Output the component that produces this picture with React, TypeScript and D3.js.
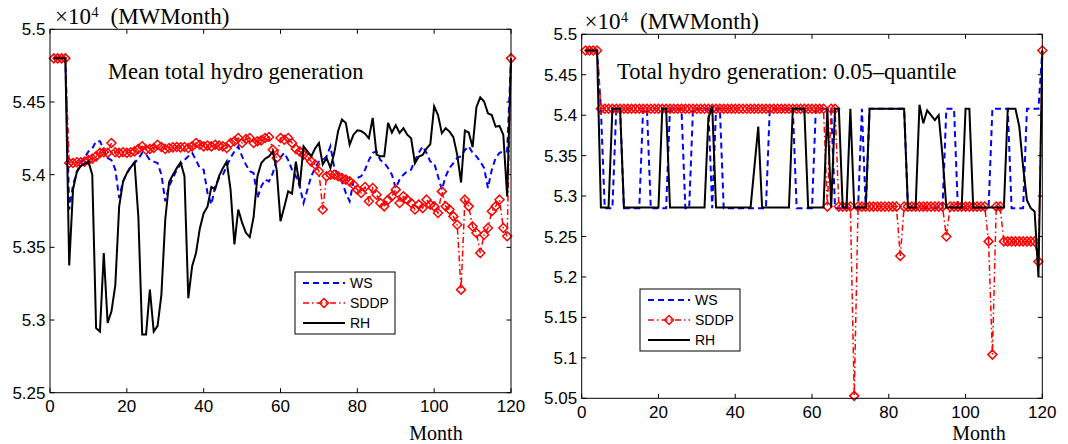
import React from 'react';
import * as d3 from 'd3';

// month index of every point (1..120)
const months = d3.range(1, 121);

// ---- Mean total hydro generation (x1e4 MWMonth) ----
const meanWS = [
  5.48, 5.48, 5.48, 5.48, 5.376, 5.393, 5.402, 5.408, 5.4115, 5.416,
  5.418, 5.423, 5.423, 5.417, 5.4115, 5.41, 5.4035, 5.384, 5.3954, 5.401,
  5.4057, 5.408, 5.411, 5.415, 5.414, 5.41, 5.409, 5.408, 5.4, 5.3817,
  5.392, 5.3977, 5.4034, 5.4069, 5.41, 5.4126, 5.415, 5.41, 5.4046, 5.4034,
  5.3874, 5.3794, 5.392, 5.3977, 5.4, 5.4057, 5.4115, 5.416, 5.4195, 5.4126,
  5.4069, 5.4023, 5.4011, 5.384, 5.392, 5.3966, 5.3954, 5.4011, 5.41, 5.412,
  5.415, 5.41, 5.4034, 5.3989, 5.392, 5.3805, 5.3897, 5.3989, 5.4046, 5.409,
  5.41, 5.4126, 5.4195, 5.4046, 5.4, 5.3954, 5.3874, 5.3817, 5.3954, 5.3977,
  5.3989, 5.4034, 5.41, 5.415, 5.416, 5.41, 5.408, 5.4046, 5.4, 5.3908,
  5.3966, 5.4, 5.4023, 5.4034, 5.41, 5.415, 5.4195, 5.415, 5.409, 5.408,
  5.3989, 5.3897, 5.3989, 5.4046, 5.408, 5.4115, 5.4126, 5.417, 5.4195, 5.415,
  5.4126, 5.409, 5.4046, 5.3908, 5.4034, 5.4115, 5.415, 5.416, 5.416, 5.48,
];

const meanSDDP = [
  5.48, 5.48, 5.48, 5.48, 5.408, 5.408, 5.4085, 5.4085, 5.409, 5.41,
  5.411, 5.4126, 5.415, 5.4154, 5.415, 5.4218, 5.4154, 5.415, 5.4154, 5.415,
  5.4154, 5.416, 5.4177, 5.4195, 5.4172, 5.4177, 5.4183, 5.4206, 5.419, 5.4177,
  5.4183, 5.4188, 5.419, 5.4188, 5.419, 5.4183, 5.4195, 5.4218, 5.4206, 5.4195,
  5.42, 5.4195, 5.4206, 5.42, 5.4195, 5.4183, 5.4218, 5.423, 5.4252, 5.4218,
  5.4245, 5.4252, 5.4218, 5.423, 5.4236, 5.4252, 5.4259, 5.4172, 5.4115, 5.4252,
  5.424, 5.4252, 5.4218, 5.4177, 5.416, 5.4138, 5.4126, 5.409, 5.407, 5.4023,
  5.376, 5.3989, 5.4, 5.4, 5.3989, 5.3977, 5.3966, 5.3954, 5.3931, 5.3897,
  5.3874, 5.3915, 5.3817, 5.3908, 5.3862, 5.3805, 5.3782, 5.3828, 5.3851, 5.3897,
  5.3805, 5.3851, 5.3828, 5.3805, 5.376, 5.3794, 5.377, 5.3828, 5.3794, 5.3782,
  5.3736, 5.3885, 5.3782, 5.376, 5.3713, 5.3656, 5.3209, 5.3828, 5.3782, 5.3644,
  5.3599, 5.3461, 5.3587, 5.3633, 5.3748, 5.3782, 5.3828, 5.3633, 5.3576, 5.48,
];

const meanRH = [
  5.48, 5.48, 5.48, 5.48, 5.3376, 5.39, 5.402, 5.406, 5.4075, 5.409,
  5.4, 5.2945, 5.292, 5.346, 5.298, 5.306, 5.324, 5.378, 5.395, 5.401,
  5.405, 5.4085, 5.371, 5.29, 5.29, 5.321, 5.292, 5.296, 5.3175, 5.369,
  5.395, 5.4, 5.4045, 5.4085, 5.399, 5.315, 5.337, 5.346, 5.363, 5.3735,
  5.378, 5.3915, 5.39, 5.399, 5.4045, 5.409, 5.3897, 5.352, 5.376, 5.367,
  5.36, 5.357, 5.371, 5.399, 5.408, 5.411, 5.4125, 5.416, 5.4035, 5.368,
  5.378, 5.3885, 5.387, 5.409, 5.392, 5.4195, 5.416, 5.4126, 5.418, 5.4218,
  5.407, 5.4115, 5.4046, 5.415, 5.43, 5.438, 5.4356, 5.4206, 5.4275, 5.4305,
  5.43, 5.4282, 5.425, 5.439, 5.4138, 5.4126, 5.4126, 5.4356, 5.429, 5.434,
  5.4287, 5.432, 5.4275, 5.425, 5.4079, 5.4125, 5.4136, 5.418, 5.421, 5.447,
  5.441, 5.4285, 5.432, 5.4296, 5.4258, 5.4136, 5.3946, 5.4303, 5.429, 5.419,
  5.4464, 5.4532, 5.4503, 5.4422, 5.441, 5.433, 5.4335, 5.4274, 5.385, 5.48,
];

// ---- Total hydro generation: 0.05-quantile ----
const q05WS = [
  5.48, 5.48, 5.48, 5.48, 5.408, 5.285, 5.285, 5.285, 5.408, 5.408,
  5.285, 5.285, 5.285, 5.285, 5.285, 5.408, 5.408, 5.285, 5.285, 5.285,
  5.285, 5.285, 5.408, 5.408, 5.408, 5.408, 5.285, 5.285, 5.408, 5.408,
  5.408, 5.408, 5.408, 5.285, 5.408, 5.408, 5.285, 5.285, 5.285, 5.285,
  5.285, 5.285, 5.285, 5.285, 5.285, 5.285, 5.285, 5.285, 5.408, 5.408,
  5.408, 5.408, 5.408, 5.408, 5.408, 5.285, 5.285, 5.285, 5.285, 5.285,
  5.408, 5.408, 5.408, 5.408, 5.408, 5.285, 5.285, 5.285, 5.285, 5.285,
  5.285, 5.285, 5.408, 5.285, 5.408, 5.408, 5.408, 5.408, 5.408, 5.408,
  5.408, 5.408, 5.408, 5.408, 5.285, 5.285, 5.285, 5.285, 5.285, 5.285,
  5.285, 5.285, 5.285, 5.285, 5.408, 5.408, 5.408, 5.285, 5.285, 5.285,
  5.285, 5.285, 5.285, 5.285, 5.285, 5.285, 5.408, 5.408, 5.408, 5.408,
  5.408, 5.285, 5.285, 5.285, 5.285, 5.408, 5.408, 5.408, 5.408, 5.48,
];

const q05SDDP = [
  5.48, 5.48, 5.48, 5.48, 5.408, 5.408, 5.408, 5.408, 5.408, 5.408,
  5.408, 5.408, 5.408, 5.408, 5.408, 5.408, 5.408, 5.408, 5.408, 5.408,
  5.408, 5.408, 5.408, 5.408, 5.408, 5.408, 5.408, 5.408, 5.408, 5.408,
  5.408, 5.408, 5.408, 5.408, 5.408, 5.408, 5.408, 5.408, 5.408, 5.408,
  5.408, 5.408, 5.408, 5.408, 5.408, 5.408, 5.408, 5.408, 5.408, 5.408,
  5.408, 5.408, 5.408, 5.408, 5.408, 5.408, 5.408, 5.408, 5.408, 5.408,
  5.408, 5.408, 5.408, 5.287, 5.408, 5.408, 5.287, 5.287, 5.287, 5.287,
  5.053, 5.287, 5.287, 5.287, 5.287, 5.287, 5.287, 5.287, 5.287, 5.287,
  5.287, 5.287, 5.226, 5.287, 5.287, 5.287, 5.287, 5.287, 5.287, 5.287,
  5.287, 5.287, 5.287, 5.287, 5.25, 5.287, 5.287, 5.287, 5.287, 5.287,
  5.287, 5.287, 5.287, 5.287, 5.287, 5.244, 5.104, 5.287, 5.287, 5.244,
  5.244, 5.244, 5.244, 5.244, 5.244, 5.244, 5.244, 5.244, 5.219, 5.48,
];

const q05RH = [
  5.48, 5.48, 5.48, 5.48, 5.286, 5.286, 5.286, 5.408, 5.408, 5.408,
  5.286, 5.286, 5.286, 5.286, 5.286, 5.286, 5.286, 5.286, 5.286, 5.286,
  5.408, 5.408, 5.286, 5.286, 5.286, 5.286, 5.286, 5.286, 5.286, 5.286,
  5.286, 5.286, 5.396, 5.411, 5.286, 5.286, 5.286, 5.286, 5.286, 5.286,
  5.286, 5.286, 5.286, 5.286, 5.336, 5.386, 5.286, 5.286, 5.286, 5.286,
  5.286, 5.286, 5.286, 5.286, 5.408, 5.408, 5.408, 5.408, 5.286, 5.286,
  5.286, 5.286, 5.286, 5.408, 5.286, 5.408, 5.408, 5.286, 5.286, 5.408,
  5.286, 5.286, 5.286, 5.286, 5.408, 5.408, 5.408, 5.408, 5.408, 5.408,
  5.408, 5.408, 5.408, 5.408, 5.286, 5.286, 5.286, 5.413, 5.39, 5.406,
  5.4, 5.394, 5.4, 5.35, 5.286, 5.286, 5.286, 5.286, 5.286, 5.408,
  5.408, 5.286, 5.286, 5.286, 5.286, 5.286, 5.286, 5.286, 5.286, 5.286,
  5.408, 5.408, 5.408, 5.386, 5.336, 5.295, 5.285, 5.281, 5.2, 5.48,
];

const xTicks = [0, 20, 40, 60, 80, 100, 120];
const meanYTicks = [5.25, 5.3, 5.35, 5.4, 5.45, 5.5];
const meanYLabels = ['5.25', '5.3', '5.35', '5.4', '5.45', '5.5'];
const q05YTicks = [5.05, 5.1, 5.15, 5.2, 5.25, 5.3, 5.35, 5.4, 5.45, 5.5];
const q05YLabels = ['5.05', '5.1', '5.15', '5.2', '5.25', '5.3', '5.35', '5.4', '5.45', '5.5'];
const legendNames = ['WS', 'SDDP', 'RH'];

const serif = '"Liberation Serif", "Times New Roman", serif';
const sans = '"Liberation Sans", Arial, Helvetica, sans-serif';
const TICK = 4.5;

const diamond = (r: number) => `M0,${-r}L${r},0L0,${r}L${-r},0Z`;

function Panel(props: any) {
  const { b, yDomain, yTicks, yLabels, ws, sddp, rh, title, titleX, titleY, legX, legY, unitX, unitY, monthX } = props;
  const x = d3.scaleLinear().domain([0, 120]).range([b.l, b.r]);
  const y = d3.scaleLinear().domain(yDomain).range([b.b, b.t]);
  const line = d3.line<number>().x((_, i) => x(months[i])).y((d) => y(d));

  return (
    <g>
      {/* series */}
      <path d={line(ws) || ''} fill="none" stroke="#0000ff" strokeWidth={2} strokeDasharray="6,4" />
      <path d={line(sddp) || ''} fill="none" stroke="#ff0000" strokeWidth={1.5} strokeDasharray="6,3,1.5,3" />
      {sddp.map((d: number, i: number) => (
        <path key={i} d={diamond(4.5)} transform={`translate(${x(months[i])},${y(d)})`}
          fill="none" stroke="#ff0000" strokeWidth={1.5} />
      ))}
      <path d={line(rh) || ''} fill="none" stroke="#000" strokeWidth={2} strokeLinejoin="miter" />

      {/* box and ticks */}
      <rect x={b.l} y={b.t} width={b.r - b.l} height={b.b - b.t} fill="none" stroke="#000" strokeWidth={1} />
      {xTicks.map((t) => (
        <g key={'x' + t}>
          <line x1={x(t)} x2={x(t)} y1={b.b} y2={b.b - TICK} stroke="#000" />
          <line x1={x(t)} x2={x(t)} y1={b.t} y2={b.t + TICK} stroke="#000" />
          <text x={x(t)} y={b.b + 19.5} textAnchor="middle" fontFamily={sans} fontSize={17}>{t}</text>
        </g>
      ))}
      {yTicks.map((t: number, i: number) => (
        <g key={'y' + t}>
          <line x1={b.l} x2={b.l + TICK} y1={y(t)} y2={y(t)} stroke="#000" />
          <line x1={b.r} x2={b.r - TICK} y1={y(t)} y2={y(t)} stroke="#000" />
          <text x={b.l - 4.5} y={y(t) + 6} textAnchor="end" fontFamily={sans} fontSize={17}>{yLabels[i]}</text>
        </g>
      ))}

      {/* unit label */}
      <text x={unitX} y={unitY} fontFamily={serif} fontSize={23}>×10</text>
      <text x={unitX + 36.5} y={unitY - 7} fontFamily={serif} fontSize={14}>4</text>
      <text x={unitX + 55.5} y={unitY} fontFamily={serif} fontSize={23}>(MWMonth)</text>

      {/* title and x label */}
      <text x={titleX} y={titleY} fontFamily={serif} fontSize={22.5}>{title}</text>
      <text x={monthX} y={439.5} textAnchor="middle" fontFamily={serif} fontSize={20}>Month</text>

      {/* legend */}
      <rect x={legX} y={legY} width={100} height={62} fill="#fff" stroke="#000" strokeWidth={1} />
      {legendNames.map((name, i) => {
        const ly = legY + 11 + i * 20;
        return (
          <g key={name}>
            {i === 0 && <line x1={legX + 8} x2={legX + 50} y1={ly} y2={ly} stroke="#0000ff" strokeWidth={2} strokeDasharray="6,4" />}
            {i === 1 && (
              <g>
                <line x1={legX + 8} x2={legX + 50} y1={ly} y2={ly} stroke="#ff0000" strokeWidth={1.5} strokeDasharray="6,3,1.5,3" />
                <path d={diamond(4.5)} transform={`translate(${legX + 29},${ly})`} fill="none" stroke="#ff0000" strokeWidth={1.5} />
              </g>
            )}
            {i === 2 && <line x1={legX + 8} x2={legX + 50} y1={ly} y2={ly} stroke="#000" strokeWidth={2} />}
            <text x={legX + 55} y={ly + 5} fontFamily={sans} fontSize={14}>{name}</text>
          </g>
        );
      })}
    </g>
  );
}

export default function App() {
  return (
    <svg width={1068} height={444} style={{ position: 'absolute', left: 0, top: 0, background: '#fff' }}>
      <rect width={1068} height={444} fill="#fff" />
      <Panel
        b={{ l: 50, r: 511, t: 29.3, b: 392.7 }}
        yDomain={[5.25, 5.5]} yTicks={meanYTicks} yLabels={meanYLabels}
        ws={meanWS} sddp={meanSDDP} rh={meanRH}
        title="Mean total hydro generation" titleX={108} titleY={79}
        legX={295} legY={272} unitX={55} unitY={23.5} monthX={436}
      />
      <Panel
        b={{ l: 581.7, r: 1042.3, t: 34.3, b: 398.3 }}
        yDomain={[5.05, 5.5]} yTicks={q05YTicks} yLabels={q05YLabels}
        ws={q05WS} sddp={q05SDDP} rh={q05RH}
        title="Total hydro generation: 0.05–quantile" titleX={617} titleY={78.5}
        legX={640} legY={289} unitX={584.5} unitY={28.5} monthX={979}
      />
    </svg>
  );
}
